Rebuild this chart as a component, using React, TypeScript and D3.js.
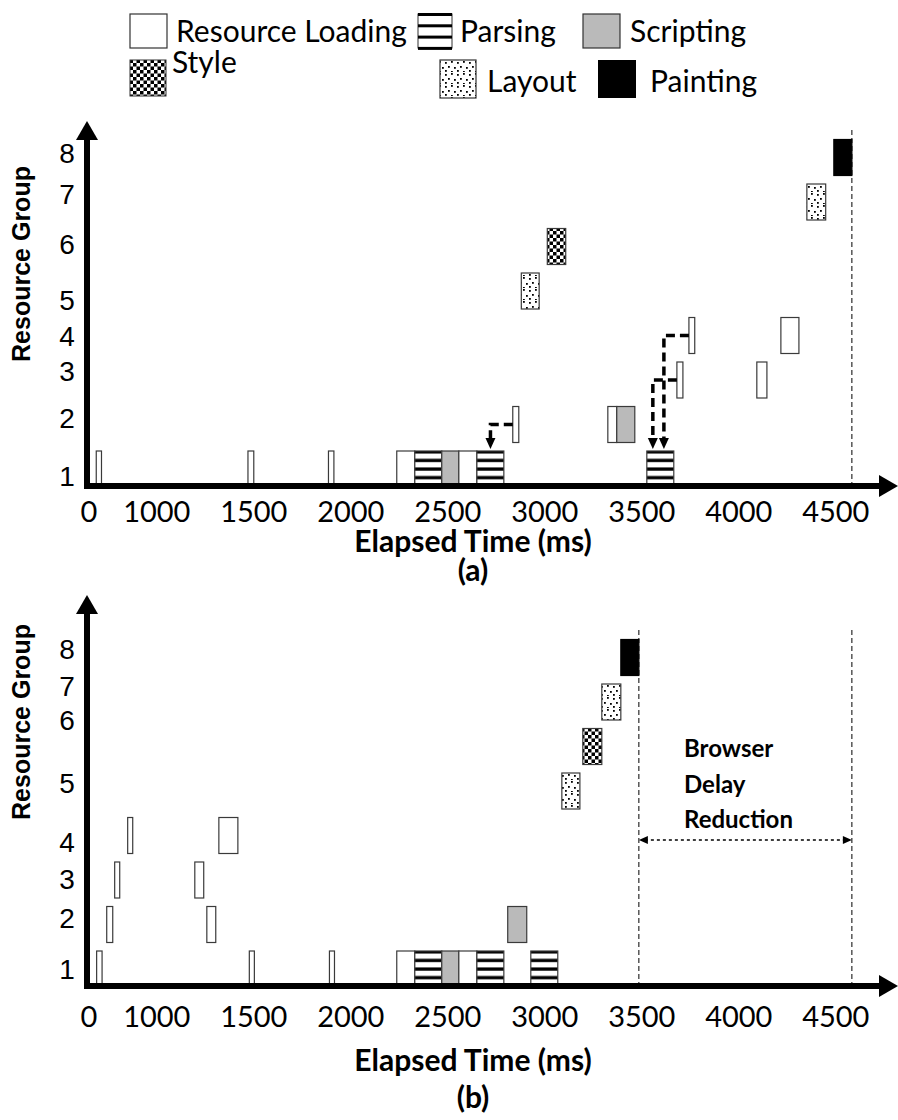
import React, { useRef, useEffect } from 'react';
import { select, scaleLinear } from 'd3';

// --- data ------------------------------------------------------------------
const groups = [1, 2, 3, 4, 5, 6, 7, 8];
const timeTickLabels = ['0', '1000', '1500', '2000', '2500', '3000', '3500', '4000', '4500'];
const timeTickValues = [650, 1000, 1500, 2000, 2500, 3000, 3500, 4000, 4500];

const activityTypes = ['Resource Loading', 'Parsing', 'Scripting', 'Style', 'Layout', 'Painting'];

// [group, start ms, end ms, activity]
const activitiesA = [
  [1, 688, 715, 'Resource Loading'],
  [1, 1470, 1500, 'Resource Loading'],
  [1, 1885, 1913, 'Resource Loading'],
  [1, 2237, 2330, 'Resource Loading'],
  [1, 2330, 2469, 'Parsing'],
  [1, 2469, 2557, 'Scripting'],
  [1, 2557, 2650, 'Resource Loading'],
  [1, 2650, 2789, 'Parsing'],
  [1, 3526, 3665, 'Parsing'],
  [2, 2835, 2866, 'Resource Loading'],
  [2, 3325, 3371, 'Resource Loading'],
  [2, 3371, 3464, 'Scripting'],
  [3, 3681, 3712, 'Resource Loading'],
  [3, 4093, 4145, 'Resource Loading'],
  [4, 3743, 3773, 'Resource Loading'],
  [4, 4217, 4310, 'Resource Loading'],
  [5, 2879, 2971, 'Layout'],
  [6, 3013, 3108, 'Style'],
  [7, 4351, 4448, 'Layout'],
  [8, 4490, 4583, 'Painting'],
];

const activitiesB = [
  [1, 690, 718, 'Resource Loading'],
  [1, 1477, 1503, 'Resource Loading'],
  [1, 1890, 1916, 'Resource Loading'],
  [1, 2237, 2330, 'Resource Loading'],
  [1, 2330, 2469, 'Parsing'],
  [1, 2469, 2557, 'Scripting'],
  [1, 2557, 2650, 'Resource Loading'],
  [1, 2650, 2789, 'Parsing'],
  [1, 2928, 3067, 'Parsing'],
  [2, 742, 773, 'Resource Loading'],
  [2, 1258, 1304, 'Resource Loading'],
  [2, 2809, 2907, 'Scripting'],
  [3, 783, 809, 'Resource Loading'],
  [3, 1196, 1242, 'Resource Loading'],
  [4, 850, 876, 'Resource Loading'],
  [4, 1320, 1418, 'Resource Loading'],
  [5, 3088, 3181, 'Layout'],
  [6, 3196, 3294, 'Style'],
  [7, 3294, 3392, 'Layout'],
  [8, 3392, 3485, 'Painting'],
];

// dependency arrows in (a): [from group, from ms, to ms]
const dependenciesA = [
  [2, 2835, 2720],
  [3, 3681, 3557],
  [4, 3743, 3614],
];

const pageLoadA = 4583;
const pageLoadB = 3485;

// where the group numbers sit, in group units
const groupLabelPosA = [0.84, 2.15, 3.2, 3.99, 4.8, 6.06, 7.18, 8.1];
const groupLabelPosB = [1.0, 2.15, 3.02, 3.85, 5.18, 6.6, 7.36, 8.19];

const reductionLines = ['Browser', 'Delay', 'Reduction'];

// --- layout ------------------------------------------------------------------
const W = 898;
const H = 1120;
const ROW = 44.5;
const BAR_H = 36;
const CALIBRI = 'Lato, "Open Sans", sans-serif';
const ARIAL = '"Liberation Sans", Arial, sans-serif';

const fillFor = (kind, panel) => {
  if (kind === 'Parsing') return `url(#parse-${panel})`;
  if (kind === 'Scripting') return '#bababa';
  if (kind === 'Style') return 'url(#checker)';
  if (kind === 'Layout') return 'url(#dots)';
  if (kind === 'Painting') return '#000';
  return '#fff';
};

const panels = [
  { id: 'a', acts: activitiesA, deps: dependenciesA, labelPos: groupLabelPosA, base: 469, axisY: 486, tipY: 121, dashTop: 130,
    tickY: 522, titleY: 552, capY: 581, yTitleC: 264, cap: '(a)', ends: [pageLoadA] },
  { id: 'b', acts: activitiesB, deps: [], labelPos: groupLabelPosB, base: 969, axisY: 986, tipY: 595, dashTop: 630,
    tickY: 1027, titleY: 1071, capY: 1108, yTitleC: 722, cap: '(b)', ends: [pageLoadB, pageLoadA] },
];

export default function App() {
  const svgRef = useRef(null);

  useEffect(() => {
    document.body.style.margin = '0';
    const svg = select(svgRef.current);
    svg.selectAll('*').remove();

    const x = scaleLinear().domain([630, 4850]).range([85, 85 + 4220 * 0.194]);

    const defs = svg.append('defs');
    const chk = defs.append('pattern').attr('id', 'checker').attr('patternUnits', 'userSpaceOnUse')
      .attr('width', 7).attr('height', 7);
    chk.append('rect').attr('width', 7).attr('height', 7).attr('fill', '#fff');
    chk.append('rect').attr('width', 3.5).attr('height', 3.5).attr('fill', '#000');
    chk.append('rect').attr('x', 3.5).attr('y', 3.5).attr('width', 3.5).attr('height', 3.5).attr('fill', '#000');

    const dots = defs.append('pattern').attr('id', 'dots').attr('patternUnits', 'userSpaceOnUse')
      .attr('width', 12).attr('height', 12);
    dots.append('rect').attr('width', 12).attr('height', 12).attr('fill', '#fff');
    [[1, 2], [7, 1], [4, 6], [10, 7], [1, 10], [7, 11]].forEach(([dx, dy]) =>
      dots.append('rect').attr('x', dx).attr('y', dy).attr('width', 1.8).attr('height', 1.8).attr('fill', '#000'));

    panels.forEach(p => {
      const top = p.base - BAR_H / 2;
      const pat = defs.append('pattern').attr('id', `parse-${p.id}`).attr('patternUnits', 'userSpaceOnUse')
        .attr('x', 0).attr('y', top + 2.6).attr('width', 10).attr('height', 8.6);
      pat.append('rect').attr('width', 10).attr('height', 8.6).attr('fill', '#fff');
      pat.append('rect').attr('y', 5.2).attr('width', 10).attr('height', 3.3).attr('fill', '#000');
    });

    // legend
    const lg = svg.append('g');
    const legendText = (t, tx, ty) => lg.append('text').attr('x', tx).attr('y', ty).text(t)
      .style('font-family', CALIBRI).style('font-size', '30px');
    lg.append('rect').attr('x', 130).attr('y', 14).attr('width', 37).attr('height', 34)
      .attr('fill', '#fff').attr('stroke', '#333').attr('stroke-width', 1.2);
    legendText(activityTypes[0], 176, 42);
    lg.append('rect').attr('x', 418).attr('y', 14).attr('width', 34).attr('height', 34).attr('fill', '#fff')
      .attr('stroke', '#333').attr('stroke-width', 1);
    [0, 1, 2, 3].forEach(i => lg.append('rect').attr('x', 418).attr('y', 13 + i * 11.3).attr('width', 34)
      .attr('height', 3).attr('fill', '#000'));
    legendText(activityTypes[1], 460, 42);
    lg.append('rect').attr('x', 583).attr('y', 14).attr('width', 37).attr('height', 34)
      .attr('fill', '#bababa').attr('stroke', '#333').attr('stroke-width', 1.2);
    legendText(activityTypes[2], 630, 42);
    lg.append('rect').attr('x', 130).attr('y', 60).attr('width', 36).attr('height', 36)
      .attr('fill', 'url(#checker)').attr('stroke', '#333').attr('stroke-width', 1);
    legendText(activityTypes[3], 172, 73);
    lg.append('rect').attr('x', 440).attr('y', 60).attr('width', 36).attr('height', 38)
      .attr('fill', 'url(#dots)').attr('stroke', '#333').attr('stroke-width', 1.2);
    legendText(activityTypes[4], 487, 92);
    lg.append('rect').attr('x', 598).attr('y', 60).attr('width', 38).attr('height', 38).attr('fill', '#000');
    legendText(activityTypes[5], 650, 92);

    panels.forEach(p => {
      const y = scaleLinear().domain([1, 8]).range([p.base, p.base - 7 * ROW]);
      const g = svg.append('g');

      // page-load end markers
      p.ends.forEach(t => g.append('line').attr('x1', x(t)).attr('x2', x(t)).attr('y1', p.dashTop).attr('y2', p.axisY)
        .attr('stroke', '#000').attr('stroke-width', 1).attr('stroke-dasharray', '5,3'));

      // activity bars
      g.selectAll('.bar').data(p.acts).join('rect').attr('class', 'bar')
        .attr('x', d => x(d[1])).attr('width', d => x(d[2]) - x(d[1]))
        .attr('y', d => y(d[0]) - BAR_H / 2).attr('height', BAR_H)
        .attr('fill', d => fillFor(d[3], p.id))
        .attr('stroke', d => (d[3] === 'Painting' ? '#000' : '#3a3a3a')).attr('stroke-width', 1.2);

      // dependency arrows
      const rowTop = y(1) - BAR_H / 2;
      p.deps.forEach(([grp, from, to]) => {
        g.append('path').attr('d', `M${x(from)},${y(grp)}H${x(to)}V${rowTop - 12}`)
          .attr('fill', 'none').attr('stroke', '#000').attr('stroke-width', 3.5).attr('stroke-dasharray', '9,5');
        g.append('path').attr('d', `M${x(to) - 5},${rowTop - 13}L${x(to) + 5},${rowTop - 13}L${x(to)},${rowTop - 2}Z`)
          .attr('fill', '#000');
      });

      // axes
      const ax = 87;
      g.append('rect').attr('x', ax - 3).attr('y', p.tipY + 16).attr('width', 6).attr('height', p.axisY + 3 - p.tipY - 16).attr('fill', '#000');
      g.append('path').attr('d', `M${ax},${p.tipY}L${ax + 11},${p.tipY + 19}L${ax - 11},${p.tipY + 19}Z`).attr('fill', '#000');
      g.append('rect').attr('x', ax - 3).attr('y', p.axisY - 3).attr('width', 880 - ax + 3).attr('height', 6).attr('fill', '#000');
      g.append('path').attr('d', `M${W},${p.axisY}L${W - 19},${p.axisY - 11}L${W - 19},${p.axisY + 11}Z`).attr('fill', '#000');

      // group labels
      g.selectAll('.glab').data(groups).join('text').attr('class', 'glab')
        .attr('x', 67).attr('y', (d, i) => y(p.labelPos[i])).attr('dy', '0.36em')
        .attr('text-anchor', 'middle').style('font-family', ARIAL).style('font-size', '28px').text(d => d);
      g.append('text').attr('transform', `translate(30,${p.yTitleC}) rotate(-90)`).attr('text-anchor', 'middle')
        .style('font-family', ARIAL).style('font-weight', 'bold').style('font-size', '25px').text('Resource Group');

      // time ticks
      g.selectAll('.tlab').data(timeTickValues).join('text').attr('class', 'tlab')
        .attr('x', d => x(d)).attr('y', p.tickY).attr('text-anchor', 'middle')
        .style('font-family', CALIBRI).style('font-size', '29px').text((d, i) => timeTickLabels[i]);
      g.append('text').attr('x', 473).attr('y', p.titleY).attr('text-anchor', 'middle')
        .style('font-family', CALIBRI).style('font-weight', 'bold').style('font-size', '30px').text('Elapsed Time (ms)');
      g.append('text').attr('x', 473).attr('y', p.capY).attr('text-anchor', 'middle')
        .style('font-family', CALIBRI).style('font-weight', 'bold').style('font-size', '30px').text(p.cap);

      if (p.id === 'b') {
        const ay = 840;
        const x1 = x(pageLoadB);
        const x2 = x(pageLoadA);
        g.append('line').attr('x1', x1 + 6).attr('x2', x2 - 6).attr('y1', ay).attr('y2', ay)
          .attr('stroke', '#000').attr('stroke-width', 1.3).attr('stroke-dasharray', '3,3');
        g.append('path').attr('d', `M${x1},${ay}L${x1 + 9},${ay - 4}L${x1 + 9},${ay + 4}Z`).attr('fill', '#000');
        g.append('path').attr('d', `M${x2},${ay}L${x2 - 9},${ay - 4}L${x2 - 9},${ay + 4}Z`).attr('fill', '#000');
        reductionLines.forEach((t, i) => g.append('text').attr('x', 684).attr('y', 757 + i * 35.5).text(t)
          .style('font-family', CALIBRI).style('font-weight', 'bold').style('font-size', '24px'));
      }
    });
  }, []);

  return (
    <div style={{ width: W, height: H }}>
      <svg ref={svgRef} width={W} height={H} style={{ display: 'block' }} />
    </div>
  );
}
